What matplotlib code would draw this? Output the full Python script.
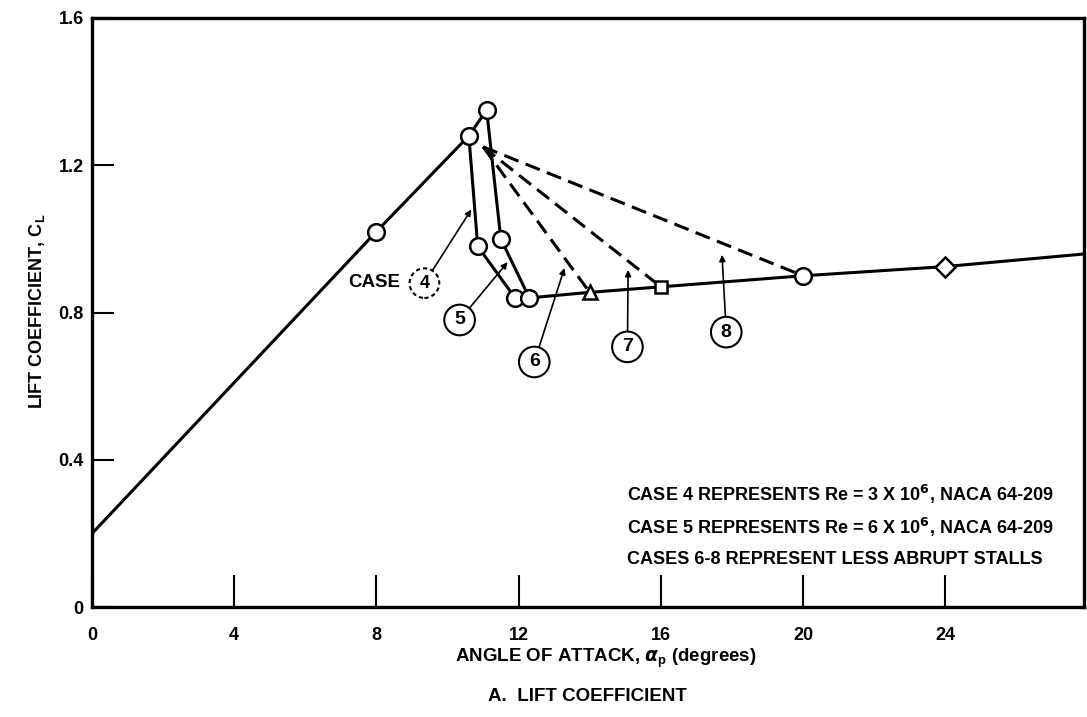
import matplotlib
matplotlib.use("Agg")
import matplotlib.pyplot as plt

plt.rcParams['font.family'] = ['DejaVu Sans Condensed', 'Liberation Sans',
                               'DejaVu Sans']
plt.rcParams['font.weight'] = 'bold'
plt.rcParams['mathtext.fontset'] = 'custom'
plt.rcParams['mathtext.it'] = 'DejaVu Sans:italic:bold'
plt.rcParams['mathtext.rm'] = 'DejaVu Sans:bold'

# lift curve up to stall (case 4 and case 5 peaks)
pre_x = [0, 8, 10.6, 11.1]
pre_y = [0.2, 1.02, 1.28, 1.35]

# abrupt stall drops
case4_x = [10.6, 10.85, 11.9]
case4_y = [1.28, 0.98, 0.84]
case5_x = [11.1, 11.5, 12.3]
case5_y = [1.35, 1.00, 0.84]

# post stall curve
post_x = [11.9, 12.3, 14, 16, 20, 24, 28]
post_y = [0.84, 0.84, 0.855, 0.87, 0.90, 0.925, 0.96]

# less abrupt stalls (cases 6-8), dashed from a common break point
brk_x, brk_y = 11.0, 1.25
soft_end_x = [14, 16, 20]
soft_end_y = [0.855, 0.87, 0.90]
soft_names = ['6', '7', '8']

circ_x = [8, 10.6, 11.1, 10.85, 11.5, 11.9, 12.3, 20]
circ_y = [1.02, 1.28, 1.35, 0.98, 1.00, 0.84, 0.84, 0.90]

xticks = [0, 4, 8, 12, 16, 20, 24]
yticks = [0, 0.4, 0.8, 1.2, 1.6]
ytick_labels = ['0', '0.4', '0.8', '1.2', '1.6']

notes = ['CASE 4 REPRESENTS Re = 3 X 10$^{6}$, NACA 64-209',
         'CASE 5 REPRESENTS Re = 6 X 10$^{6}$, NACA 64-209',
         'CASES 6-8 REPRESENT LESS ABRUPT STALLS']

fig = plt.figure(figsize=(10.87, 7.17), dpi=100)
ax = fig.add_axes([0.0846, 0.153, 0.9126, 0.822])

lw = 2.2
ax.plot(pre_x, pre_y, color='black', lw=lw, zorder=2)
ax.plot(case4_x, case4_y, color='black', lw=lw, zorder=2)
ax.plot(case5_x, case5_y, color='black', lw=lw, zorder=2)
ax.plot(post_x, post_y, color='black', lw=lw, zorder=2)
for ex, ey in zip(soft_end_x, soft_end_y):
    ax.plot([brk_x, ex], [brk_y, ey], color='black', lw=lw,
            dashes=(5, 2.5), zorder=2)

mk = dict(color='black', mfc='white', mec='black', mew=1.8, ls='none', zorder=3)
ax.plot(circ_x, circ_y, marker='o', ms=12, **mk)
ax.plot([14], [0.855], marker='^', ms=10, **mk)
ax.plot([16], [0.87], marker='s', ms=9, **mk)
ax.plot([24], [0.925], marker='D', ms=10, **mk)

ax.set_xlim(0, 27.9)
ax.set_ylim(0, 1.6)
ax.set_xticks(xticks)
ax.set_yticks(yticks)
ax.set_yticklabels(ytick_labels)
ax.tick_params(axis='x', direction='in', length=23, width=1.5, pad=14,
               labelsize=13)
ax.tick_params(axis='y', direction='in', length=16, width=1.5, pad=6,
               labelsize=13)
for s in ax.spines.values():
    s.set_linewidth(2.4)

fig.text(0.034, 0.566, 'LIFT COEFFICIENT, C$_{\\mathregular{L}}$', rotation=90,
         ha='center', va='center', fontsize=13)
fig.text(0.557, 0.082, 'ANGLE OF ATTACK, $\\alpha_{\\mathregular{p}}$ '
         '(degrees)', ha='center', va='center', fontsize=13.5)
fig.text(0.54, 0.028, 'A.  LIFT COEFFICIENT', ha='center', va='center',
         fontsize=13.5)

for i, t in enumerate(notes):
    ax.text(15.05, 0.305 - i * 0.088, t, ha='left', va='center', fontsize=13)

circ = dict(boxstyle='circle,pad=0.35', fc='white', ec='black', lw=1.5)
arr = dict(arrowstyle='-|>', color='black', lw=1.2, mutation_scale=9,
           shrinkA=0, shrinkB=0)

ax.text(7.95, 0.883, 'CASE', ha='center', va='center', fontsize=13.5)
ax.annotate('4', xy=(10.67, 1.08), xytext=(9.35, 0.88), ha='center',
            va='center', fontsize=13, bbox=dict(circ, ls=(0, (2, 1.5))),
            arrowprops=arr)
ax.annotate('5', xy=(11.69, 0.937), xytext=(10.34, 0.78), ha='center',
            va='center', fontsize=14, bbox=circ, arrowprops=arr)

lbl_pos = [(12.44, 0.666), (15.06, 0.707), (17.84, 0.747)]
tip_pos = [(13.29, 0.921), (15.08, 0.916), (17.72, 0.957)]
for n, (tx, ty), (hx, hy) in zip(soft_names, lbl_pos, tip_pos):
    ax.annotate(n, xy=(hx, hy), xytext=(tx, ty), ha='center', va='center',
                fontsize=14, bbox=circ, arrowprops=arr)

fig.savefig('out.png', dpi=100)
